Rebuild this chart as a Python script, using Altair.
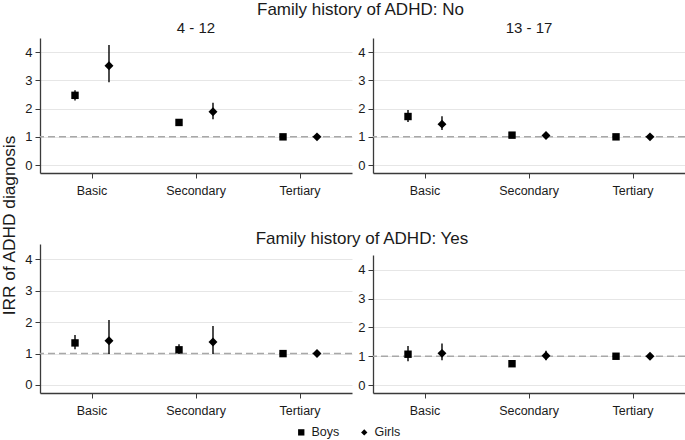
import altair as alt
import pandas as pd

education = ["Basic", "Secondary", "Tertiary"]
sexes = ["Boys", "Girls"]
ages = ["4 - 12", "13 - 17"]
histories = ["No", "Yes"]
ref_value = [1]

# Family history: No, age 4 - 12
no_young_boys_irr = [2.47, 1.51, 1.00]
no_young_boys_lo = [2.29, 1.45, 1.00]
no_young_boys_hi = [2.65, 1.58, 1.00]
no_young_girls_irr = [3.52, 1.89, 1.00]
no_young_girls_lo = [2.93, 1.62, 1.00]
no_young_girls_hi = [4.25, 2.21, 1.00]

# Family history: No, age 13 - 17
no_old_boys_irr = [1.72, 1.06, 1.00]
no_old_boys_lo = [1.53, 1.01, 1.00]
no_old_boys_hi = [1.95, 1.11, 1.00]
no_old_girls_irr = [1.45, 1.05, 1.00]
no_old_girls_lo = [1.24, 1.00, 1.00]
no_old_girls_hi = [1.73, 1.10, 1.00]

# Family history: Yes, age 4 - 12
yes_young_boys_irr = [1.34, 1.12, 1.00]
yes_young_boys_lo = [1.14, 0.99, 1.00]
yes_young_boys_hi = [1.59, 1.30, 1.00]
yes_young_girls_irr = [1.41, 1.37, 1.00]
yes_young_girls_lo = [0.99, 0.99, 1.00]
yes_young_girls_hi = [2.07, 1.88, 1.00]

# Family history: Yes, age 13 - 17
yes_old_boys_irr = [1.07, 0.74, 1.00]
yes_old_boys_lo = [0.83, 0.66, 1.00]
yes_old_boys_hi = [1.36, 0.83, 1.00]
yes_old_girls_irr = [1.10, 1.02, 1.00]
yes_old_girls_lo = [0.86, 0.86, 1.00]
yes_old_girls_hi = [1.44, 1.19, 1.00]

series = {
    ("No", "4 - 12", "Boys"): (no_young_boys_irr, no_young_boys_lo, no_young_boys_hi),
    ("No", "4 - 12", "Girls"): (no_young_girls_irr, no_young_girls_lo, no_young_girls_hi),
    ("No", "13 - 17", "Boys"): (no_old_boys_irr, no_old_boys_lo, no_old_boys_hi),
    ("No", "13 - 17", "Girls"): (no_old_girls_irr, no_old_girls_lo, no_old_girls_hi),
    ("Yes", "4 - 12", "Boys"): (yes_young_boys_irr, yes_young_boys_lo, yes_young_boys_hi),
    ("Yes", "4 - 12", "Girls"): (yes_young_girls_irr, yes_young_girls_lo, yes_young_girls_hi),
    ("Yes", "13 - 17", "Boys"): (yes_old_boys_irr, yes_old_boys_lo, yes_old_boys_hi),
    ("Yes", "13 - 17", "Girls"): (yes_old_girls_irr, yes_old_girls_lo, yes_old_girls_hi),
}

rows = []
for (hist, age, sex), (irr, lo, hi) in series.items():
    for i, edu in enumerate(education):
        rows.append({"history": hist, "age": age, "sex": sex, "edu": edu,
                     "irr": irr[i], "lo": lo[i], "hi": hi[i]})
df = pd.DataFrame(rows)
ref_df = pd.DataFrame({"ref": ref_value})

FONT = "Liberation Sans"
PANEL_W = 312


def panel(hist, age, ydomain, height, yrange=None, title=None, ytitle=False):
    sub = df[(df["history"] == hist) & (df["age"] == age)]
    x_axis = alt.Axis(title=None, labelAngle=0, labelFontSize=12.5, labelPadding=6,
                      tickSize=5, domainColor="#3a3a3a", tickColor="#3a3a3a",
                      domainWidth=1.3, labelColor="#1a1a1a", labelFont=FONT, grid=False)
    y_axis_kwargs = dict(values=[0, 1, 2, 3, 4], labelFontSize=13, labelPadding=3, tickSize=5,
                         domainColor="#3a3a3a", tickColor="#3a3a3a", domainWidth=1.3,
                         labelColor="#1a1a1a", labelFont=FONT, grid=True,
                         gridColor="#e6e6e6", gridWidth=1, orient="left")
    if ytitle:
        y_axis = alt.Axis(title="IRR of ADHD diagnosis", titleFontSize=17.3, titleFont=FONT,
                          titleFontWeight="normal", titleColor="#1a1a1a", titleAngle=270,
                          titleAlign="center", titleX=-22, titleY=187, **y_axis_kwargs)
    else:
        y_axis = alt.Axis(title=None, **y_axis_kwargs)
    scale_kwargs = dict(domain=ydomain, nice=False, zero=False)
    if yrange is not None:
        scale_kwargs["range"] = yrange
    y_scale = alt.Scale(**scale_kwargs)
    x_enc = alt.X("edu:N", sort=education, axis=x_axis,
                  scale=alt.Scale(type="band", domain=education, paddingInner=0, paddingOuter=0))
    xo_enc = alt.XOffset("sex:N", scale=alt.Scale(type="band", domain=sexes,
                                                  paddingInner=0, paddingOuter=0.53))
    ref = alt.Chart(ref_df).mark_rule(strokeDash=[7, 4], color="#a8a8a8", strokeWidth=1.5).encode(
        y=alt.Y("ref:Q", scale=y_scale, axis=y_axis))
    bars = alt.Chart(sub).mark_rule(color="black", strokeWidth=1.4).encode(
        x=x_enc, xOffset=xo_enc,
        y=alt.Y("lo:Q", scale=y_scale, axis=y_axis), y2="hi:Q")
    pts = alt.Chart(sub).mark_point(filled=True, color="black", opacity=1).encode(
        x=x_enc, xOffset=xo_enc,
        y=alt.Y("irr:Q", scale=y_scale, axis=y_axis),
        size=alt.condition("datum.sex == 'Girls'", alt.value(80), alt.value(55)),
        shape=alt.Shape("sex:N", scale=alt.Scale(domain=sexes, range=["square", "diamond"]),
                        legend=alt.Legend(title=None, orient="none", direction="horizontal",
                                          legendX=255, legendY=388, labelFontSize=12.5,
                                          labelFont=FONT, labelColor="#1a1a1a", symbolSize=40,
                                          symbolFillColor="black", symbolStrokeColor="black",
                                          columnPadding=18, labelOffset=4)))
    props = dict(width=PANEL_W, height=height,
                 view=alt.ViewBackground(stroke="transparent", strokeWidth=0))
    if title is not None:
        props["title"] = title
    return alt.layer(ref, bars, pts).properties(**props)


p1 = panel("No", "4 - 12", [-0.28, 4.5], 135, ytitle=True,
           title=alt.TitleParams("4 - 12", fontSize=15, fontWeight="normal", font=FONT,
                                 color="#1a1a1a", offset=2))
p2 = panel("No", "13 - 17", [-0.28, 4.5], 135,
           title=alt.TitleParams("13 - 17", fontSize=15, fontWeight="normal", font=FONT,
                                 color="#1a1a1a", offset=2))
p3 = panel("Yes", "4 - 12", [-0.255, 4.49], 149,
           title=alt.TitleParams("Family history of ADHD: Yes", fontSize=17, fontWeight="normal",
                                 font=FONT, color="#1a1a1a", offset=-4,
                                 anchor="middle", dx=166))
p4 = panel("Yes", "13 - 17", [-0.278, 4.52], 149, yrange=[149, 11])

chart = alt.concat(p1, p2, p3, p4, columns=2, spacing={"row": 71, "column": 21},
                   bounds="flush",
                   title=alt.TitleParams("Family history of ADHD: No", fontSize=17,
                                         fontWeight="normal", font=FONT, color="#1a1a1a",
                                         anchor="start", frame="group", dx=217, offset=2)
                   ).properties(
                       autosize=alt.AutoSizeParams(type="none"),
                       padding={"left": 40, "top": 38, "right": 645, "bottom": 402}
                   ).configure_view(stroke="transparent", strokeWidth=0
                   ).configure_axisRight(domainOpacity=0, tickOpacity=0, labelOpacity=0,
                                         gridOpacity=0
                   ).configure(background="white",
                               style={"cell": {"stroke": "transparent", "strokeWidth": 0}})

chart.save("out.html", embed_options={"renderer": "svg", "actions": False})
